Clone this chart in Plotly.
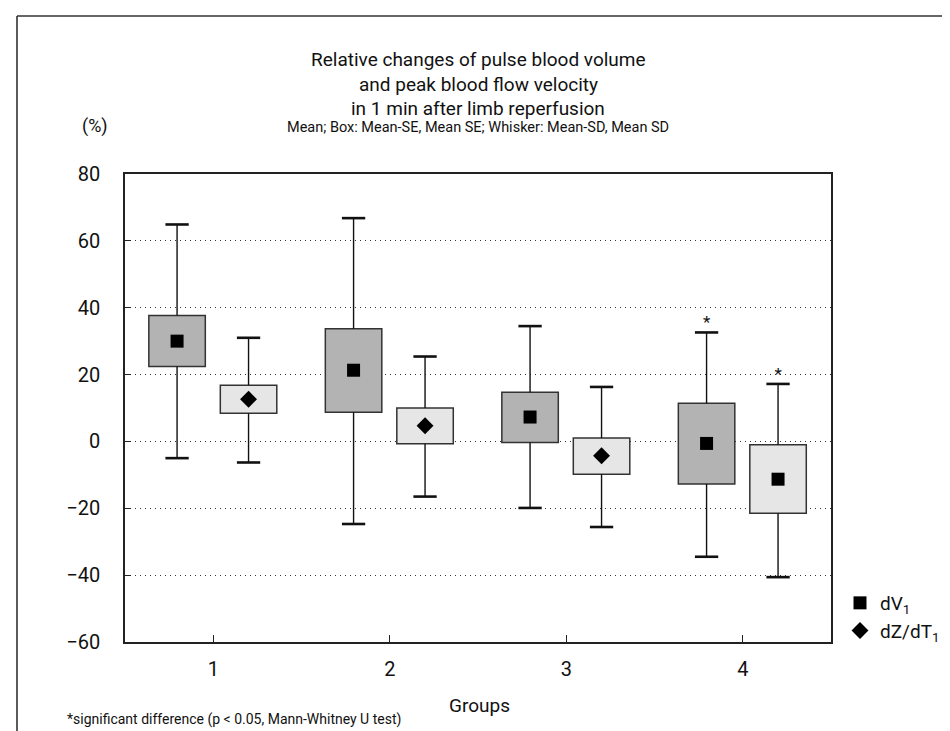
import plotly.graph_objects as go

# ---- data ----
groups = [1, 2, 3, 4]
group_labels = ["1", "2", "3", "4"]

dv_mean = [30.0, 21.3, 7.3, -0.6]
dv_se_lo = [22.4, 8.7, -0.3, -12.7]
dv_se_hi = [37.7, 33.7, 14.7, 11.4]
dv_sd_lo = [-5.0, -24.7, -19.9, -34.5]
dv_sd_hi = [64.9, 66.8, 34.5, 32.6]
dv_sig = ["", "", "", "*"]

dz_mean = [12.6, 4.7, -4.3, -11.3]
dz_se_lo = [8.4, -0.7, -9.8, -21.5]
dz_se_hi = [16.8, 10.0, 1.0, -1.0]
dz_sd_lo = [-6.3, -16.5, -25.6, -40.6]
dz_sd_hi = [31.0, 25.4, 16.3, 17.2]
dz_sig = ["", "", "", "*"]
dz_symbols = ["diamond", "diamond", "diamond", "square"]

y_ticks = [-60, -40, -20, 0, 20, 40, 60, 80]
y_tick_text = ["\u221260", "\u221240", "\u221220", "0", "20", "40", "60", "80"]

FONT = "Roboto, Liberation Sans, sans-serif"
W, H = 950, 731
L, R, T, B = 117, 823, 166, 634
PW, PH = R - L, B - T


def px(xp):
    return (xp - L) / PW


def py(yp):
    return (B - yp) / PH


OFF_DV, OFF_DZ = -0.205, 0.2
BOXW = 0.32
CAP = 0.066

fig = go.Figure()


def add_series(mean, se_lo, se_hi, sd_lo, sd_hi, sig, off, fill, name, symbols, msize):
    xs = [g + off for g in groups]
    # boxes
    fig.add_trace(go.Bar(
        x=xs, y=[h - l for h, l in zip(se_hi, se_lo)], base=se_lo, width=BOXW,
        marker=dict(color=fill, line=dict(color="#333333", width=1.5)),
        showlegend=False, hoverinfo="skip"))
    # whisker stems (outside box)
    wx, wy = [], []
    for x, a, b, c, d in zip(xs, se_hi, sd_hi, se_lo, sd_lo):
        wx += [x, x, None, x, x, None]
        wy += [a, b, None, c, d, None]
    fig.add_trace(go.Scatter(x=wx, y=wy, mode="lines",
                             line=dict(color="#111111", width=1.4),
                             showlegend=False, hoverinfo="skip"))
    # caps
    cx, cy = [], []
    for x, b, d in zip(xs, sd_hi, sd_lo):
        cx += [x - CAP, x + CAP, None, x - CAP, x + CAP, None]
        cy += [b, b, None, d, d, None]
    fig.add_trace(go.Scatter(x=cx, y=cy, mode="lines",
                             line=dict(color="#111111", width=2.6),
                             showlegend=False, hoverinfo="skip"))
    # means
    fig.add_trace(go.Scatter(x=xs, y=mean, mode="markers", name=name,
                             marker=dict(symbol=symbols, size=msize, color="#000000"),
                             showlegend=True, hoverinfo="skip"))
    # significance marks
    sx = [x for x, s in zip(xs, sig) if s]
    sy = [v for v, s in zip(sd_hi, sig) if s]
    st = [s for s in sig if s]
    fig.add_trace(go.Scatter(x=sx, y=sy, mode="text", text=st,
                             textposition="top center",
                             textfont=dict(family=FONT, size=17, color="#111111"),
                             showlegend=False, hoverinfo="skip"))


add_series(dv_mean, dv_se_lo, dv_se_hi, dv_sd_lo, dv_sd_hi, dv_sig, OFF_DV,
           "#b3b3b3", "dV<sub>1</sub>", "square", 13)
add_series(dz_mean, dz_se_lo, dz_se_hi, dz_sd_lo, dz_sd_hi, dz_sig, OFF_DZ,
           "#e6e6e6", "dZ/dT<sub>1</sub>", dz_symbols, 13)

fig.update_layout(
    width=W, height=H,
    margin=dict(l=L, r=W - R, t=T, b=H - B, pad=0),
    paper_bgcolor="white", plot_bgcolor="white",
    barmode="overlay",
    font=dict(family=FONT, size=19, color="#111111"),
    showlegend=True,
    legend=dict(x=px(832), y=py(576), xanchor="left", yanchor="top",
                font=dict(family=FONT, size=19, color="#111111"),
                bgcolor="rgba(0,0,0,0)", borderwidth=0,
                itemsizing="trace", tracegroupgap=0),
    hovermode=False,
)

fig.update_xaxes(
    range=[0.5, 4.5], tickvals=groups, ticktext=group_labels,
    showline=True, mirror=True, linecolor="#222222", linewidth=1.5,
    ticks="inside", ticklen=7, tickwidth=1.3, tickcolor="#222222",
    showgrid=False, zeroline=False, ticklabelstandoff=8,
    tickfont=dict(family=FONT, size=20, color="#111111"),
)
fig.update_yaxes(
    range=[-60, 80], tickvals=y_ticks, ticktext=y_tick_text,
    showline=True, mirror=True, linecolor="#222222", linewidth=1.5,
    ticks="inside", ticklen=6, tickwidth=1.3, tickcolor="#222222",
    showgrid=True, gridcolor="#333333", gridwidth=1, griddash="1px,4px",
    zeroline=False, ticklabelstandoff=19,
    tickfont=dict(family=FONT, size=20, color="#111111"),
)

cx = px((L + R) / 2)
anns = [
    dict(text="Relative changes of pulse blood volume", x=cx, y=py(52), size=19),
    dict(text="and peak blood flow velocity", x=cx, y=py(76), size=19),
    dict(text="in 1 min after limb reperfusion", x=cx, y=py(100), size=19),
    dict(text="Mean; Box: Mean-SE, Mean SE; Whisker: Mean-SD, Mean SD", x=cx, y=py(120), size=14.5),
    dict(text="(%)", x=px(87), y=py(118), size=18),
    dict(text="Groups", x=px(471), y=py(697), size=19),
]
for a in anns:
    fig.add_annotation(text=a["text"], x=a["x"], y=a["y"], xref="paper", yref="paper",
                       xanchor="center", yanchor="middle", showarrow=False,
                       font=dict(family=FONT, size=a["size"], color="#111111"))
fig.add_annotation(text="*significant difference (p < 0.05, Mann-Whitney U test)",
                   x=px(57), y=py(711), xref="paper", yref="paper",
                   xanchor="left", yanchor="middle", showarrow=False,
                   font=dict(family=FONT, size=14, color="#111111"))

# outer frame (left and top edges)
fig.add_shape(type="line", xref="paper", yref="paper",
              x0=px(9), y0=py(H + 5), x1=px(9), y1=py(8),
              line=dict(color="#333333", width=1.6))
fig.add_shape(type="line", xref="paper", yref="paper",
              x0=px(9), y0=py(8), x1=px(W + 5), y1=py(8),
              line=dict(color="#333333", width=1.6))

fig.write_html("out.html")
